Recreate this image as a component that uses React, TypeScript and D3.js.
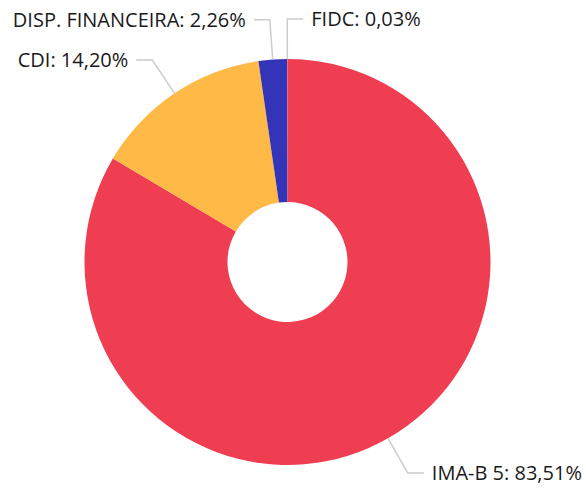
import React from "react";
import * as d3 from "d3";

const categories = ["IMA-B 5", "CDI", "DISP. FINANCEIRA", "FIDC"];
const values = [83.51, 14.2, 2.26, 0.03];
const labels = ["IMA-B 5: 83,51%", "CDI: 14,20%", "DISP. FINANCEIRA: 2,26%", "FIDC: 0,03%"];
const colors = ["#ef3d52", "#ffb946", "#3434b8", "#ef3d52"];

const W = 586;
const H = 488;
const cx = 287.5;
const cy = 262;
const outerR = 203;
const innerR = 60;
const len1 = 40;
const len2 = 16;
const gap = 8;

export default function App() {
  const pie = d3.pie<number>().sort(null).value((d) => d);
  const arcs = pie(values);
  const arcGen = d3.arc<d3.PieArcDatum<number>>().innerRadius(innerR).outerRadius(outerR);

  return (
    <svg
      width={W}
      height={H}
      style={{ position: "absolute", left: 0, top: 0, background: "#fff" }}
      fontFamily="'Open Sans', sans-serif"
    >
      <g transform={`translate(${cx},${cy})`}>
        {arcs.map((a, i) => (
          <path key={categories[i]} d={arcGen(a) || ""} fill={colors[i]} />
        ))}
        {arcs.map((a, i) => {
          const mid = (a.startAngle + a.endAngle) / 2;
          const sx = Math.sin(mid), sy = -Math.cos(mid);
          const p0 = [outerR * sx, outerR * sy];
          const p1 = [(outerR + len1) * sx, (outerR + len1) * sy];
          const right = sx >= -0.005;
          const p2 = [p1[0] + (right ? len2 : -len2), p1[1]];
          const tx = p2[0] + (right ? gap : -gap);
          return (
            <g key={"l" + i}>
              <polyline
                points={`${p0[0]},${p0[1]} ${p1[0]},${p1[1]} ${p2[0]},${p2[1]}`}
                fill="none"
                stroke="#cccccc"
                strokeWidth={1.5}
              />
              <text
                x={tx}
                y={p2[1]}
                dy="0.35em"
                textAnchor={right ? "start" : "end"}
                fontSize={20}
                fill="#1a1a1a"
              >
                {labels[i]}
              </text>
            </g>
          );
        })}
      </g>
    </svg>
  );
}
